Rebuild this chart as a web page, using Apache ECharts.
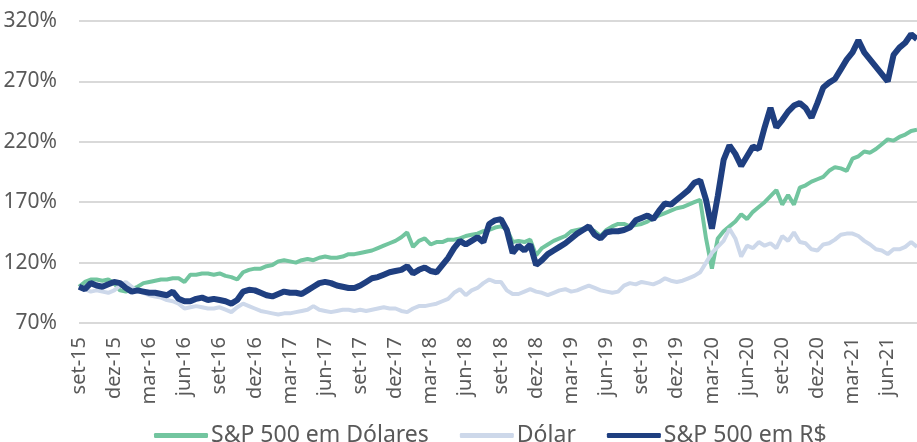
<!DOCTYPE html>
<html>
<head>
<meta charset="utf-8">
<script src="https://cdn.jsdelivr.net/npm/echarts@6/dist/echarts.min.js"></script>
<style>
  html, body { margin: 0; padding: 0; background: #fff; }
  #chart { width: 917px; height: 442px; }
</style>
</head>
<body>
<div id="chart"></div>
<script>
// meses (2 leituras por mes)
var months = ['set-15','out-15','nov-15','dez-15','jan-16','fev-16','mar-16','abr-16','mai-16','jun-16','jul-16','ago-16',
  'set-16','out-16','nov-16','dez-16','jan-17','fev-17','mar-17','abr-17','mai-17','jun-17','jul-17','ago-17',
  'set-17','out-17','nov-17','dez-17','jan-18','fev-18','mar-18','abr-18','mai-18','jun-18','jul-18','ago-18',
  'set-18','out-18','nov-18','dez-18','jan-19','fev-19','mar-19','abr-19','mai-19','jun-19','jul-19','ago-19',
  'set-19','out-19','nov-19','dez-19','jan-20','fev-20','mar-20','abr-20','mai-20','jun-20','jul-20','ago-20',
  'set-20','out-20','nov-20','dez-20','jan-21','fev-21','mar-21','abr-21','mai-21','jun-21','jul-21','ago-21'];

var spDolares = [100,104,106,106,105,106,103,97,96,98,100,103,104,105,106,106,107,107,104,110,
  110,111,111,110,111,109,108,106,112,114,115,115,117,118,121,122,121,120,122,123,
  122,124,125,124,124,125,127,127,128,129,130,132,134,136,138,141,145,133,138,140,
  135,137,137,139,139,140,142,143,144,146,147,149,150,148,137,138,137,139,126,132,
  135,138,140,142,146,147,148,148,146,142,147,150,152,152,150,151,152,154,157,159,
  161,163,165,166,168,170,172,140,115,140,146,150,154,160,156,162,166,170,175,180,
  168,176,168,182,184,187,189,191,196,199,198,196,206,208,212,211,214,218,222,221,
  224,226,229,230];

var dolar = [100,98,96,97,96,95,97,101,104,100,96,95,93,92,91,89,88,86,82,83,
  84,83,82,82,83,81,79,83,86,84,82,80,79,78,77,78,78,79,80,81,
  84,81,80,79,80,81,81,80,81,80,81,82,83,82,82,80,79,82,84,84,
  85,86,88,90,95,98,93,97,99,103,106,104,104,97,94,94,96,98,96,95,
  93,95,97,98,96,97,99,101,99,97,96,95,96,101,103,102,104,103,102,104,
  107,105,104,105,107,109,112,120,128,133,138,148,140,125,134,132,137,134,136,132,
  142,138,145,137,136,131,130,135,136,139,143,144,144,142,138,135,131,130,127,131,
  131,133,137,133];

var spReais = [100,98,103,101,100,102,104,103,99,96,97,96,95,95,94,93,96,90,88,88,
  90,91,89,90,89,88,86,89,96,97.5,97,95,93,92,94,96,95,95,94,97,
  100,103,104,103,101,100,99,99,101,104,107,108,110,112,113,114,117,111,114,116,
  113,112,118,124,132,138,135,138,141,137,152,155,156,147,128,134,130,135,118,122,
  127,130,133,136,140,144,147,150,143,140,145,146,146,147,149,155,157,159,156,163,
  169,168,172,176,180,186,188,172,148,175,205,217,210,200,208,216,214,232,248,232,
  238,245,250,252,248,240,252,265,269,272,280,288,294,304,294,288,282,276,270,292,
  298,302,309,305];

var yTicks = [70, 120, 170, 220, 270, 320];

var xData = [];
months.forEach(function (m) {
  xData.push(m);
  xData.push(m + ' ');
});

var chart = echarts.init(document.getElementById('chart'));

var option = {
  animation: false,
  textStyle: { fontFamily: 'Noto Sans' },
  grid: { left: 79, right: 0, top: 21, bottom: 119 },
  legend: {
    top: 419,
    left: 149,
    itemWidth: 54,
    itemHeight: 5,
    itemGap: 31,
    icon: 'roundRect',
    textStyle: { fontSize: 23, color: '#595959', fontFamily: 'Noto Sans', padding: [0, 0, 0, -2] },
    data: ['S&P 500 em Dólares', 'Dólar', 'S&P 500 em R$']
  },
  xAxis: {
    type: 'category',
    boundaryGap: false,
    data: xData,
    axisLine: { show: false },
    axisTick: { show: false },
    axisLabel: {
      rotate: 90,
      margin: 14,
      fontSize: 20,
      color: '#595959',
      interval: function (idx) { return idx % 6 === 0; }
    }
  },
  yAxis: {
    type: 'value',
    min: yTicks[0],
    max: yTicks[yTicks.length - 1],
    interval: 50,
    axisLine: { show: false },
    axisTick: { show: false },
    axisLabel: {
      margin: 22,
      fontSize: 21,
      color: '#595959',
      formatter: '{value}%'
    },
    splitLine: { lineStyle: { color: '#d9d9d9', width: 2 } }
  },
  series: [
    {
      name: 'S&P 500 em Dólares',
      type: 'line',
      data: spDolares,
      showSymbol: false,
      color: '#72c59f',
      lineStyle: { width: 4, color: '#72c59f' }
    },
    {
      name: 'Dólar',
      type: 'line',
      data: dolar,
      showSymbol: false,
      color: '#cdd8ea',
      lineStyle: { width: 4, color: '#cdd8ea' }
    },
    {
      name: 'S&P 500 em R$',
      type: 'line',
      data: spReais,
      showSymbol: false,
      color: '#1f3f80',
      lineStyle: { width: 6, color: '#1f3f80' }
    }
  ]
};

chart.setOption(option);
</script>
</body>
</html>
